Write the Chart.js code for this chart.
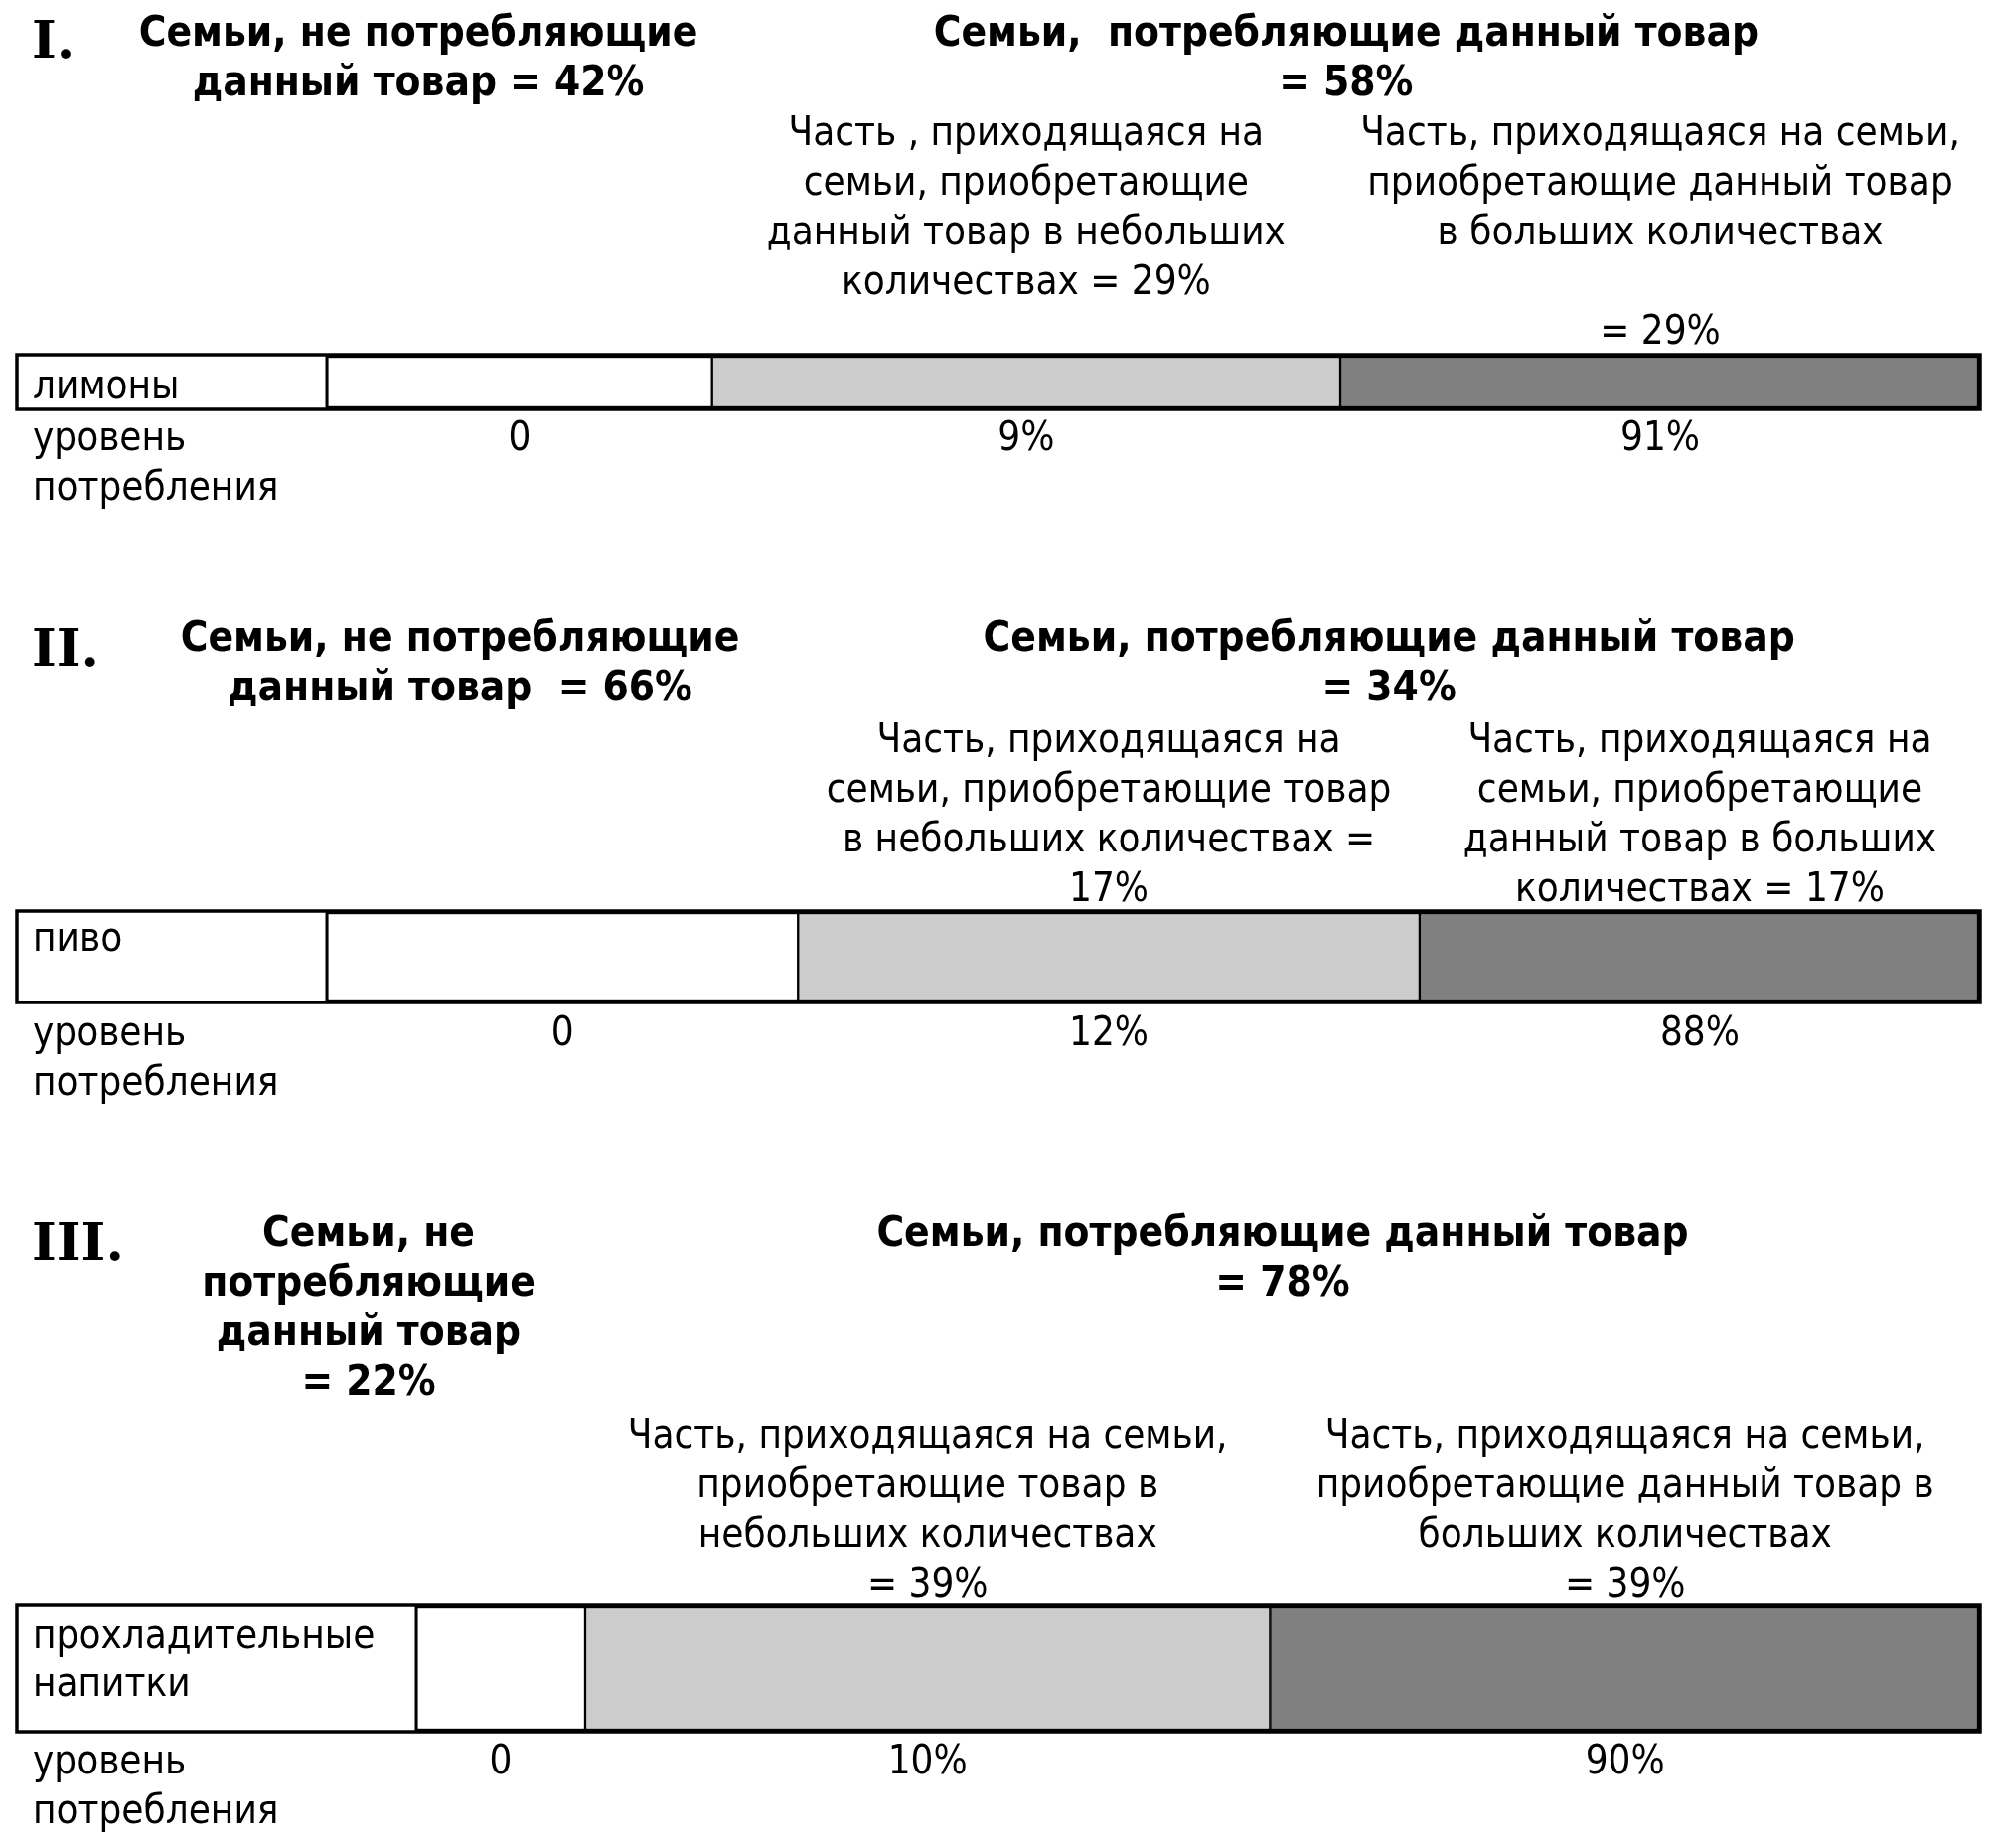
<!DOCTYPE html>
<html>
<head>
<meta charset="utf-8">
<script src="https://cdn.jsdelivr.net/npm/chart.js@4.4.1/dist/chart.umd.min.js"></script>
<style>
  html, body { margin: 0; padding: 0; background: #fff; }
  body { width: 2007px; height: 1860px; position: relative; overflow: hidden; }
  canvas { position: absolute; left: 0; }
</style>
</head>
<body>
<canvas id="c0"></canvas>
<canvas id="c1"></canvas>
<canvas id="c2"></canvas>
<script>
// one bar per panel
const products = ["лимоны", "пиво", ["прохладительные", "напитки"]];
const numerals = ["I.", "II.", "III."];

// share of families, % (printed in the headings)
const nonUsers = [42, 66, 22];
const users = [58, 34, 78];
const lightUsers = [29, 17, 39];
const heavyUsers = [29, 17, 39];

// share of consumption, % (printed under the bars)
const nonUserVolume = [0, 0, 0];
const lightVolume = [9, 12, 10];
const heavyVolume = [91, 88, 90];

// segment lengths as drawn in the source (the source is not to scale), % of the bar
const drawnNon = [23.3, 28.5, 10.8];
const drawnLight = [38.0, 37.6, 43.8];
const drawnHeavy = [38.7, 33.9, 45.4];

const leftHeads = [
  ["Семьи, не потребляющие", "данный товар = " + nonUsers[0] + "%"],
  ["Семьи, не потребляющие", "данный товар  = " + nonUsers[1] + "%"],
  ["Семьи, не", "потребляющие", "данный товар", "= " + nonUsers[2] + "%"]
];
const rightHeads = [
  ["Семьи,  потребляющие данный товар", "= " + users[0] + "%"],
  ["Семьи, потребляющие данный товар", "= " + users[1] + "%"],
  ["Семьи, потребляющие данный товар", "= " + users[2] + "%"]
];
const lightNotes = [
  ["Часть , приходящаяся на", "семьи, приобретающие", "данный товар в небольших", "количествах = " + lightUsers[0] + "%"],
  ["Часть, приходящаяся на", "семьи, приобретающие товар", "в небольших количествах =", lightUsers[1] + "%"],
  ["Часть, приходящаяся на семьи,", "приобретающие товар в", "небольших количествах", "= " + lightUsers[2] + "%"]
];
const heavyNotes = [
  ["Часть, приходящаяся на семьи,", "приобретающие данный товар", "в больших количествах", "", "= " + heavyUsers[0] + "%"],
  ["Часть, приходящаяся на", "семьи, приобретающие", "данный товар в больших", "количествах = " + heavyUsers[1] + "%"],
  ["Часть, приходящаяся на семьи,", "приобретающие данный товар в", "больших количествах", "= " + heavyUsers[2] + "%"]
];
const levelLabel = ["уровень", "потребления"];

// page layout of each panel, px
const layout = [
  { top: 0,    height: 520, barTop: 357,  barBottom: 412,  cellRight: 329, numY: 58,   headX: 421, headY: 46,   noteY: 146,  belowY: 453,  labelShift: 6 },
  { top: 520,  height: 600, barTop: 917,  barBottom: 1009, cellRight: 329, numY: 670,  headX: 463, headY: 655,  noteY: 757,  belowY: 1052, labelShift: -16 },
  { top: 1120, height: 740, barTop: 1615, barBottom: 1743, cellRight: 419, numY: 1268, headX: 371, headY: 1254, noteY: 1457, belowY: 1785, labelShift: -6 }
];
const BAR_LEFT = 17, BAR_RIGHT = 1993, TEXT_LEFT = 33, LINE = 50;
const SANS = "'DejaVu Sans Condensed', 'DejaVu Sans', sans-serif";
const REG = "40px " + SANS;
const BOLD = "bold 42px " + SANS;

const notesPlugin = {
  id: "notes",
  afterDatasetsDraw(chart, args, opts) {
    const i = opts.panel;
    const L = layout[i];
    const ctx = chart.ctx;
    const area = chart.chartArea;
    const seg = [0, 1, 2].map(d => chart.getDatasetMeta(d).data[0].getProps(["x", "base"], true));
    const mid = s => (s.x + s.base) / 2;
    const y = v => v - L.top;

    ctx.save();
    // frame of the bar and of the product cell
    ctx.strokeStyle = "#000";
    ctx.lineWidth = 3.5;
    ctx.strokeRect(BAR_LEFT, area.top, BAR_RIGHT - BAR_LEFT, area.bottom - area.top);
    ctx.lineWidth = 3;
    ctx.beginPath();
    ctx.moveTo(area.left, area.top);
    ctx.lineTo(area.left, area.bottom);
    ctx.stroke();

    ctx.fillStyle = "#000";
    ctx.textBaseline = "alphabetic";

    ctx.textAlign = "left";
    ctx.font = "bold 53px 'DejaVu Serif', serif";
    ctx.fillText(numerals[i], 32, y(L.numY));

    const lines = (arr, x, y0, font) => {
      ctx.font = font;
      ctx.textAlign = "center";
      arr.forEach((t, k) => ctx.fillText(t, x, y(y0 + k * LINE)));
    };
    lines(leftHeads[i], L.headX, L.headY, BOLD);
    lines(rightHeads[i], (seg[1].base + seg[2].x) / 2, L.headY, BOLD);
    lines(lightNotes[i], mid(seg[1]), L.noteY, REG);
    lines(heavyNotes[i], mid(seg[2]), L.noteY, REG);

    ctx.font = REG;
    ctx.textAlign = "left";
    ctx.fillText(levelLabel[0], TEXT_LEFT, y(L.belowY));
    ctx.fillText(levelLabel[1], TEXT_LEFT, y(L.belowY + LINE));
    ctx.textAlign = "center";
    ctx.fillText(String(nonUserVolume[i]), mid(seg[0]), y(L.belowY));
    ctx.fillText(lightVolume[i] + "%", mid(seg[1]), y(L.belowY));
    ctx.fillText(heavyVolume[i] + "%", mid(seg[2]), y(L.belowY));
    ctx.restore();
  }
};

layout.forEach((L, i) => {
  const canvas = document.getElementById("c" + i);
  canvas.width = 2007;
  canvas.height = L.height;
  canvas.style.top = L.top + "px";
  canvas.style.width = "2007px";
  canvas.style.height = L.height + "px";

  new Chart(canvas, {
    type: "bar",
    data: {
      labels: [products[i]],
      datasets: [
        { label: "не потребляют", data: [drawnNon[i]], backgroundColor: "#ffffff",
          borderWidth: { top: 3.5, bottom: 3.5, left: 1.5, right: 1.5 } },
        { label: "в небольших количествах", data: [drawnLight[i]], backgroundColor: "#cccccc",
          borderWidth: { top: 3.5, bottom: 3.5, left: 1.5, right: 1.5 } },
        { label: "в больших количествах", data: [drawnHeavy[i]], backgroundColor: "#808080",
          borderWidth: { top: 3.5, bottom: 3.5, left: 1.5, right: 3.5 } }
      ]
    },
    options: {
      indexAxis: "y",
      responsive: false,
      animation: false,
      devicePixelRatio: 1,
      layout: {
        padding: { left: TEXT_LEFT, right: 2007 - BAR_RIGHT, top: L.barTop - L.top, bottom: L.top + L.height - L.barBottom }
      },
      datasets: {
        bar: { barPercentage: 1, categoryPercentage: 1, borderColor: "#000", borderSkipped: false }
      },
      plugins: {
        legend: { display: false },
        tooltip: { enabled: false },
        notes: { panel: i }
      },
      scales: {
        x: { stacked: true, min: 0, max: 100, display: false },
        y: {
          stacked: true,
          grid: { display: false },
          border: { display: false },
          ticks: {
            crossAlign: "far",
            padding: 0,
            color: "#000",
            labelOffset: L.labelShift,
            font: { family: SANS, size: 40, lineHeight: 48 / 40 }
          },
          afterFit: s => { s.width = L.cellRight - TEXT_LEFT; }
        }
      }
    },
    plugins: [notesPlugin]
  });
});
</script>
</body>
</html>
